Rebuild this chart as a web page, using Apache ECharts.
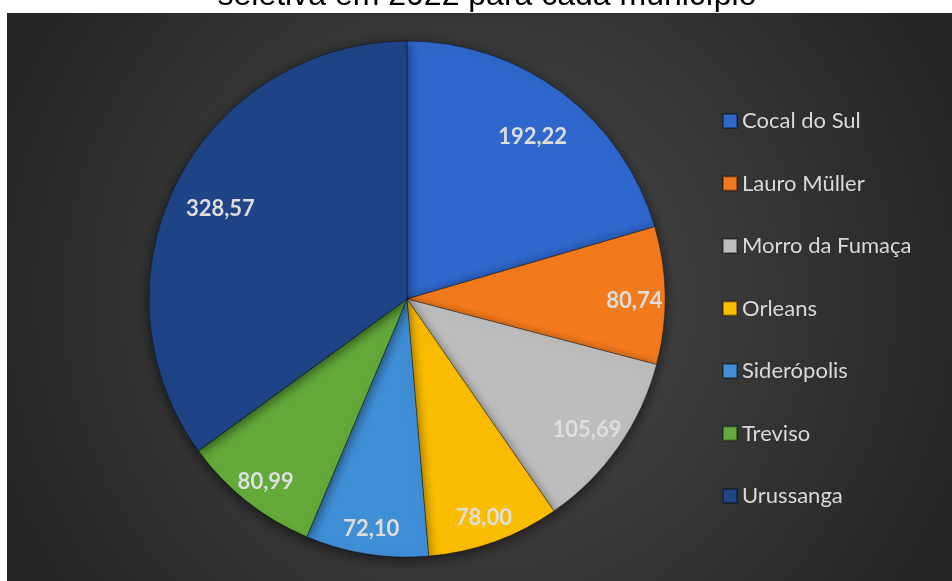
<!DOCTYPE html>
<html>
<head>
<meta charset="utf-8">
<script src="https://cdn.jsdelivr.net/npm/echarts@6/dist/echarts.min.js"></script>
<style>html,body{margin:0;padding:0;background:#fff}#c{width:952px;height:581px}</style>
</head>
<body>
<div id="c"></div>
<script>
const categories = ['Cocal do Sul', 'Lauro Müller', 'Morro da Fumaça', 'Orleans', 'Siderópolis', 'Treviso', 'Urussanga'];
const values = [192.22, 80.74, 105.69, 78.00, 72.10, 80.99, 328.57];
const colors = ['#2f67cc', '#f47b1d', '#bdbdbd', '#fbbd00', '#3f8fd7', '#63aa3a', '#1f4588'];
const titleText = 'seletiva em 2022 para cada município';

const chart = echarts.init(document.getElementById('c'), null, {renderer: 'canvas'});
const data = categories.map((n, i) => ({name: n, value: values[i], itemStyle: {color: colors[i]}}));
const fmt = v => v.toFixed(2).replace('.', ',');
const C = [407, 299], CL = [407, 304], R = 258;
const total = values.reduce((a, b) => a + b, 0);
const labelFont = 'Lato, "Open Sans", sans-serif';

function overlay(r0, show) {
  return {
    type: 'pie', center: CL, radius: [r0, R], startAngle: 90, clockwise: true, silent: true,
    legendHoverLink: false,
    data: categories.map((n, i) => ({name: n + ' ', value: values[i], label: {show: show(values[i] / total)}})),
    itemStyle: {color: 'rgba(0,0,0,0)'},
    label: {position: 'inside', formatter: p => fmt(p.value), color: '#dedede', fontSize: 22, fontWeight: 'bold', fontFamily: labelFont},
    labelLine: {show: false},
    emphasis: {disabled: true}
  };
}

chart.setOption({
  backgroundColor: '#ffffff',
  animation: false,
  graphic: [
    {type: 'text', z: -20, x: 487, y: -4, style: {text: titleText, font: '32px "Liberation Sans", Arial, sans-serif', fill: '#000', textAlign: 'center', textVerticalAlign: 'middle'}},
    {type: 'rect', z: -10, shape: {x: 7, y: 13, width: 945, height: 568},
     style: {fill: {type: 'radial', x: 0.5, y: 0.5, r: 0.9, colorStops: [{offset: 0, color: '#4b4b4b'}, {offset: 1, color: '#252525'}]}}}
  ],
  legend: {
    orient: 'vertical', left: 722, top: 110, padding: 0,
    itemWidth: 14, itemHeight: 14, itemGap: 40.5, icon: 'rect',
    textStyle: {color: '#d9d9d9', fontSize: 22, fontFamily: labelFont},
    data: categories
  },
  series: [
    {
      type: 'pie', center: C, radius: [0, R], startAngle: 90, clockwise: true,
      data: data,
      label: {show: false}, labelLine: {show: false},
      itemStyle: {borderColor: 'rgba(0,0,0,0.35)', borderWidth: 1, shadowBlur: 12, shadowColor: 'rgba(0,0,0,0.55)', shadowOffsetY: 3},
      emphasis: {disabled: true}
    },
    overlay(R * 0.6, f => f > 0.15),
    overlay(R * 0.68, f => f > 0.1 && f <= 0.15),
    overlay(R * 0.74, f => f <= 0.1)
  ]
});
</script>
</body>
</html>
